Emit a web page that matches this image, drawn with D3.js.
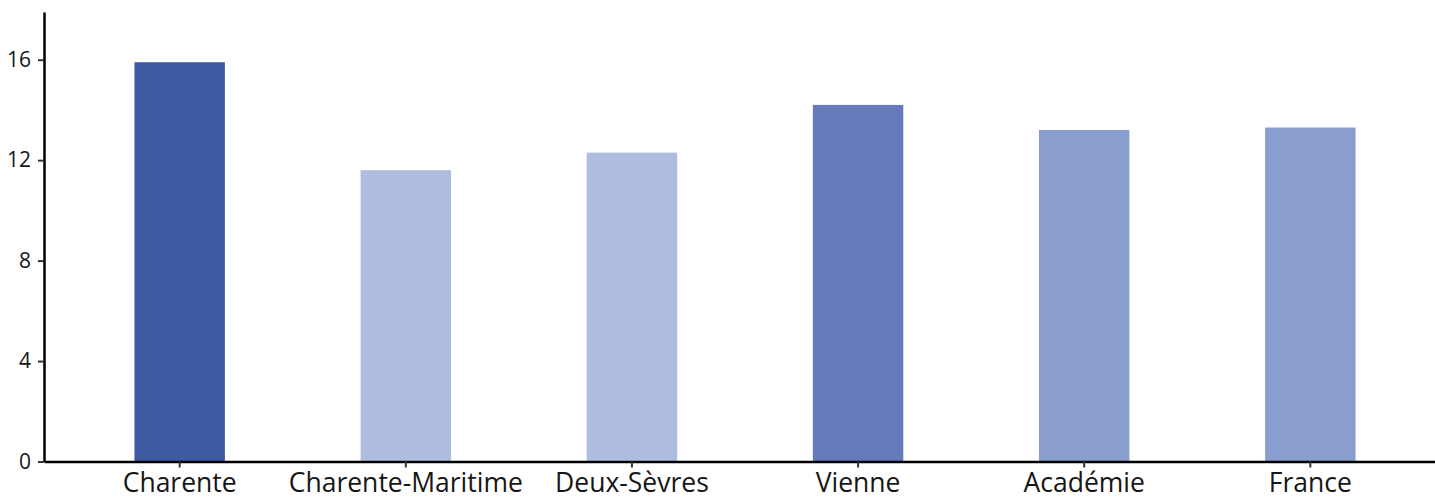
<!DOCTYPE html>
<html>
<head>
<meta charset="utf-8">
<script src="https://cdn.jsdelivr.net/npm/d3@7"></script>
<style>
  html, body { margin: 0; padding: 0; background: #fff; }
  svg { display: block; }
  .axis text { font-family: "Open Sans", sans-serif; fill: #161616; }
</style>
</head>
<body>
<svg id="chart" width="1435" height="499"></svg>
<script>
const categories = ["Charente", "Charente-Maritime", "Deux-Sèvres", "Vienne", "Académie", "France"];
const values = [15.9, 11.6, 12.3, 14.2, 13.2, 13.3];
const barColors = ["#3e5aa3", "#aebcdf", "#aebcdf", "#6679bb", "#8a9dcf", "#8a9dcf"];
const yTicks = [0, 4, 8, 12, 16];

const W = 1435, H = 499;
const svg = d3.select("#chart");
const x0 = 44, yBottom = 461.5, yTop = 12;

const x = d3.scaleBand().domain(categories).range([x0, 1446]).paddingInner(0.6).paddingOuter(0.4);
const y = d3.scaleLinear().domain([0, 17.9]).range([yBottom, yTop]);

svg.selectAll("rect.bar").data(categories).join("rect")
  .attr("class", "bar")
  .attr("x", d => x(d))
  .attr("width", x.bandwidth())
  .attr("y", (d, i) => y(values[i]))
  .attr("height", (d, i) => y(0) - y(values[i]))
  .attr("fill", (d, i) => barColors[i]);

const xAxis = svg.append("g").attr("class", "axis")
  .attr("transform", `translate(0,${yBottom})`)
  .call(d3.axisBottom(x).tickSize(6).tickSizeOuter(0).tickPadding(6));
xAxis.select(".domain").attr("stroke", "#000").attr("stroke-width", 2.5);
xAxis.selectAll(".tick line").attr("stroke", "#333").attr("stroke-width", 2);
xAxis.selectAll("text").attr("font-size", 26.5);

const yAxis = svg.append("g").attr("class", "axis")
  .attr("transform", `translate(${x0},0)`)
  .call(d3.axisLeft(y).tickValues(yTicks).tickSize(6).tickSizeOuter(0).tickPadding(7));
yAxis.select(".domain").attr("stroke", "#000").attr("stroke-width", 2.5);
yAxis.selectAll(".tick line").attr("stroke", "#333").attr("stroke-width", 2);
yAxis.selectAll("text").attr("font-size", 21);
</script>
</body>
</html>
